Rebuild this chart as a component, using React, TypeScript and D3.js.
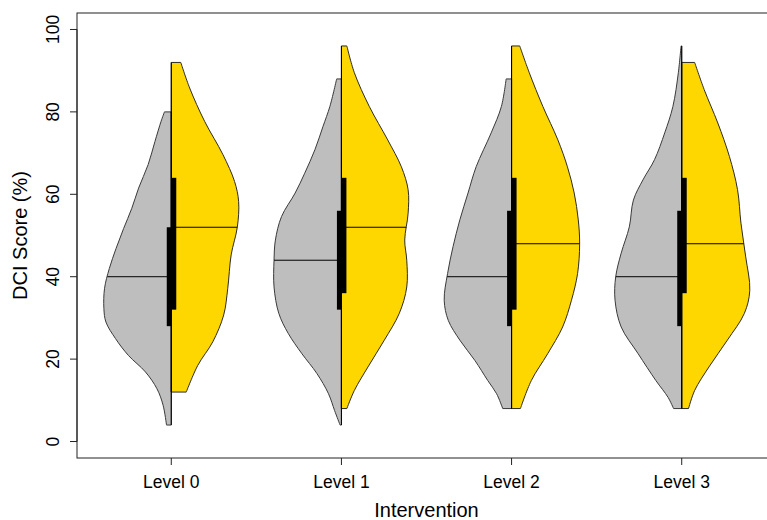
import React from "react";
import * as d3 from "d3";

// Intervention levels on the x axis
const levels = ["Level 0", "Level 1", "Level 2", "Level 3"];
const yTicks = [0, 20, 40, 60, 80, 100];

// Half-violin density profiles: [score, relative half-width]
const grayProfile0 = [[4, 0.07], [8.8, 0.12], [12.8, 0.21], [16.9, 0.38], [20.9, 0.63], [25, 0.82], [29, 0.96], [32.3, 0.99], [37.2, 0.98], [42, 0.91], [46.9, 0.81], [51.7, 0.7], [56.6, 0.58], [61.5, 0.48], [67.2, 0.34], [72.8, 0.24], [77.7, 0.15], [80, 0.1]];
const goldProfile0 = [[12, 0.22], [18.5, 0.39], [24.2, 0.61], [30.7, 0.77], [37.2, 0.83], [45.3, 0.88], [52, 0.97], [58.2, 0.99], [63.1, 0.93], [69.6, 0.76], [77.7, 0.49], [85.8, 0.27], [92, 0.14]];
const grayProfile1 = [[4, 0.02], [7.5, 0.1], [11.6, 0.19], [16.5, 0.36], [21.3, 0.58], [26.2, 0.78], [31.1, 0.92], [37.5, 0.99], [44, 0.99], [48.9, 0.97], [54.6, 0.88], [60.3, 0.68], [65.1, 0.54], [70.8, 0.39], [76.5, 0.27], [81.3, 0.17], [88, 0.07]];
const goldProfile1 = [[8, 0.08], [12.4, 0.19], [18.1, 0.39], [24.6, 0.63], [31.1, 0.85], [37.5, 0.96], [44, 0.96], [48.9, 0.93], [55.4, 0.98], [61.1, 0.98], [66.7, 0.88], [73.2, 0.68], [81.3, 0.41], [89.5, 0.19], [96, 0.08]];
const grayProfile2 = [[8, 0.13], [11.6, 0.22], [14.8, 0.35], [19.7, 0.54], [24.6, 0.76], [29.4, 0.93], [34.3, 0.99], [40.8, 0.94], [47.3, 0.86], [53.8, 0.76], [60.3, 0.64], [66.7, 0.52], [74.9, 0.3], [81.3, 0.15], [88, 0.08]];
const goldProfile2 = [[8, 0.13], [14.8, 0.29], [21.3, 0.53], [27.8, 0.75], [34.3, 0.88], [40.8, 0.97], [47.9, 1.0], [53.8, 0.98], [60.3, 0.92], [66.7, 0.82], [73.2, 0.68], [81.3, 0.46], [89.5, 0.26], [96, 0.12]];
const grayProfile3 = [[8, 0.12], [10.7, 0.2], [14.8, 0.38], [21.3, 0.64], [27.8, 0.89], [34.3, 0.98], [40, 0.97], [45.7, 0.89], [52.1, 0.77], [58.6, 0.71], [63.5, 0.57], [68.4, 0.4], [74.9, 0.25], [81.3, 0.13], [89.5, 0.05], [96, 0.01]];
const goldProfile3 = [[8, 0.1], [12.4, 0.19], [18.1, 0.4], [24.6, 0.67], [31.1, 0.92], [36.7, 1.0], [44.8, 0.94], [53, 0.87], [61.1, 0.82], [69.2, 0.7], [77.3, 0.53], [85.4, 0.33], [92, 0.19]];

const grayProfiles = [grayProfile0, grayProfile1, grayProfile2, grayProfile3];
const goldProfiles = [goldProfile0, goldProfile1, goldProfile2, goldProfile3];

// Quartiles and medians per level
const grayQ1 = [28, 32, 28, 28];
const grayMedian = [40, 44, 40, 40];
const grayQ3 = [52, 56, 56, 56];
const goldQ1 = [32, 36, 32, 36];
const goldMedian = [52, 52, 48, 48];
const goldQ3 = [64, 64, 64, 64];

const W = 767;
const H = 520;
const left = 77;
const right = 776;
const top = 13;
const bottom = 458;

const GRAY = "#BEBEBE";
const GOLD = "#FFD700";
const FONT = "'Liberation Sans', Arial, sans-serif";

function widthAt(profile: number[][], v: number): number {
  for (let i = 0; i < profile.length - 1; i++) {
    const [a, wa] = profile[i];
    const [b, wb] = profile[i + 1];
    if (v >= a && v <= b) return wa + ((v - a) / (b - a)) * (wb - wa);
  }
  return 0;
}

export default function App() {
  const x = d3.scaleLinear().domain([0.446, 4.554]).range([left, right]);
  const y = d3.scaleLinear().domain([-4, 104]).range([bottom, top]);
  const halfWidth = d3.scaleLinear().domain([0, 1]).range([0, 0.4 * (x(1) - x(0))]);

  const halfArea = (cx: number, sign: number) =>
    d3
      .area<number[]>()
      .y((d) => y(d[0]))
      .x0(() => cx)
      .x1((d) => cx + sign * halfWidth(d[1]))
      .curve(d3.curveCatmullRom.alpha(0.5));

  return (
    <svg width={W} height={H} style={{ position: "absolute", left: 0, top: 0, background: "#fff" }}>
      {levels.map((lvl, i) => {
        const cx = x(i + 1);
        const gp = grayProfiles[i];
        const op = goldProfiles[i];
        const gPath = halfArea(cx, -1)(gp) || "";
        const oPath = halfArea(cx, 1)(op) || "";
        return (
          <g key={lvl}>
            <path d={gPath} fill={GRAY} stroke="#3a3a3a" strokeWidth={1} />
            <path d={oPath} fill={GOLD} stroke="#2a2a2a" strokeWidth={1} />
            <line
              x1={cx - halfWidth(widthAt(gp, grayMedian[i]))}
              x2={cx}
              y1={y(grayMedian[i])}
              y2={y(grayMedian[i])}
              stroke="#000"
              strokeWidth={1}
            />
            <line
              x1={cx}
              x2={cx + halfWidth(widthAt(op, goldMedian[i]))}
              y1={y(goldMedian[i])}
              y2={y(goldMedian[i])}
              stroke="#000"
              strokeWidth={1}
            />
            <line x1={cx} x2={cx} y1={y(d3.min(gp, (d) => d[0])!)} y2={y(d3.max(gp, (d) => d[0])!)} stroke="#000" strokeWidth={1} />
            <line x1={cx} x2={cx} y1={y(d3.min(op, (d) => d[0])!)} y2={y(d3.max(op, (d) => d[0])!)} stroke="#000" strokeWidth={1} />
            <rect x={cx - 4.5} y={y(grayQ3[i])} width={4.5} height={y(grayQ1[i]) - y(grayQ3[i])} fill="#000" />
            <rect x={cx} y={y(goldQ3[i])} width={5} height={y(goldQ1[i]) - y(goldQ3[i])} fill="#000" />
          </g>
        );
      })}

      {/* plot frame */}
      <rect x={left} y={top} width={right - left} height={bottom - top} fill="none" stroke="#222" strokeWidth={1} />

      {/* y axis */}
      <line x1={left} x2={left} y1={y(0)} y2={y(100)} stroke="#222" />
      {yTicks.map((t) => (
        <g key={t}>
          <line x1={left - 7} x2={left} y1={y(t)} y2={y(t)} stroke="#222" />
          <text
            transform={`translate(${58.5},${y(t)}) rotate(-90)`}
            textAnchor="middle"
            fontFamily={FONT}
            fontSize={17.5}
            fill="#000"
          >
            {t}
          </text>
        </g>
      ))}

      {/* x axis */}
      {levels.map((lvl, i) => (
        <g key={lvl}>
          <line x1={x(i + 1)} x2={x(i + 1)} y1={bottom} y2={bottom + 7} stroke="#222" />
          <text x={x(i + 1)} y={488} textAnchor="middle" fontFamily={FONT} fontSize={17.5} fill="#000">
            {lvl}
          </text>
        </g>
      ))}

      {/* axis titles */}
      <text x={(left + right) / 2} y={517} textAnchor="middle" fontFamily={FONT} fontSize={20} fill="#000">
        Intervention
      </text>
      <text
        transform={`translate(${27},${(top + bottom) / 2}) rotate(-90)`}
        textAnchor="middle"
        fontFamily={FONT}
        fontSize={20}
        fill="#000"
      >
        DCI Score (%)
      </text>
    </svg>
  );
}
